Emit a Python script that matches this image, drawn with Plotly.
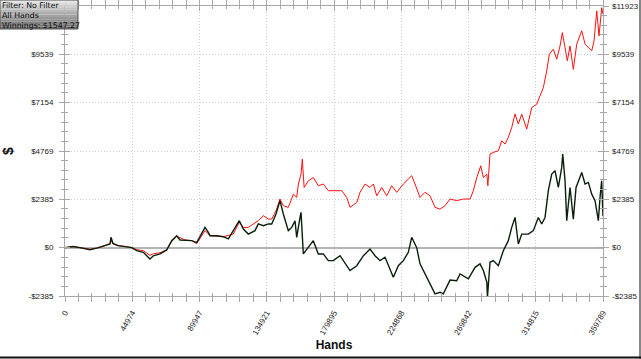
import plotly.graph_objects as go

# ---------------- data ----------------
hands_black = [0, 5350, 10030, 16720, 21200, 25410, 30100, 30760, 32100, 35450, 41260, 44610,
               47950, 52370, 56850, 59050, 63540, 68020, 71360, 74700, 76910, 80260, 84740,
               88080, 90290, 93630, 95840, 96980, 101460, 105870, 109220, 112560, 116570,
               119250, 122590, 127070, 129280, 132630, 135970, 138240, 141120, 143790, 146000,
               149340, 151620, 153820, 154960, 157170, 157840, 159380, 161650, 166060, 169410,
               172750, 176100, 179440, 183920, 190610, 195090, 199570, 203980, 207330, 210670,
               214020, 219570, 222910, 226260, 229600, 231870, 235210, 237420, 241910, 244110,
               247460, 250800, 253010, 257490, 261970, 264180, 266430, 269780, 274210, 277560,
               279770, 282110, 282510, 284230, 286440, 289790, 293130, 296480, 298750, 300960,
               303170, 305440, 309850, 313200, 316540, 318810, 321020, 323230, 325500, 327710,
               329920, 332190, 332860, 334400, 335530, 337740, 339950, 341760, 345570, 347780,
               349990, 352260, 354460, 356680, 357800, 358900, 359789]
winnings_black = [0, 60, 0, -100, -20, 80, 180, 510, 210, 100, 50, 0,
                  -150, -230, -560, -400, -310, -110, 340, 590, 380, 380, 345,
                  250, 520, 1000, 750, 590, 590, 540, 430, 840, 1330,
                  920, 670, 840, 1170, 1085, 1170, 1170, 1660, 2320, 1660,
                  840, 1000, 1330, 510, 1490, 1740, -310, -65, 345, -310,
                  -310, -640, -640, -395, -1130, -890, -395, -65, -395, -640,
                  -475, -1460, -890, -640, -230, 510, 0, -800, -1460, -1790,
                  -2280, -2200, -2280, -1600, -1630, -1300, -1380, -1540, -970, -800,
                  -1130, -1710, -2450, -720, -640, -890, -150, 345, 1000, 1490,
                  180, 670, 670, 840, 1490, 1170, 1490, 2810, 3630, 3795,
                  2970, 3960, 4620, 3300, 1330, 2970, 1410, 2970, 3710, 3140,
                  3220, 2640, 2320, 1330, 2480, 3300, 1547.27]

hands_red = [0, 5350, 10030, 16720, 21200, 25410, 30100, 30760, 32100, 35450, 41260, 44610,
             47950, 52370, 56850, 59050, 63540, 68020, 71360, 74700, 80260, 84740,
             88080, 90290, 93630, 96980, 105870, 112560, 116570, 119250, 122590,
             129280, 132630, 135970, 138240, 141120, 143790, 146000, 149340, 152740,
             154960, 156080, 157840, 158710, 159920, 162780, 166060, 169410, 172750,
             176100, 178330, 185030, 188370, 190610, 195090, 197300, 200650, 203980,
             206200, 208470, 211810, 215150, 218500, 221840, 226260, 229600, 231870,
             234080, 237420, 240770, 244110, 247460, 250800, 254150, 257490, 261970,
             266430, 270900, 273100, 275380, 278050, 279770, 282110, 282780, 284230,
             286440, 289790, 292060, 294270, 296480, 298750, 300960, 303170, 305440,
             308780, 312130, 315470, 317680, 319890, 322160, 323900, 326570, 328850,
             331060, 332590, 334400, 335930, 337740, 339950, 342220, 345570, 347780,
             349990, 352260, 353800, 355590, 357130, 358940, 359789]
winnings_red = [0, 60, 0, -80, -20, 60, 200, 360, 180, 100, 50, 0,
                -100, -150, -380, -300, -250, -110, 300, 560, 380, 345,
                200, 450, 840, 590, 540, 670, 1250, 1000, 1000,
                1330, 1580, 1410, 1410, 1820, 2400, 2070, 1990, 2640,
                2480, 3140, 3630, 4370, 2970, 3300, 3460, 3055, 3140,
                2810, 2810, 2810, 2480, 1990, 2230, 2730, 3140, 2970,
                3140, 2560, 2970, 2560, 3055, 2730, 3140, 3385, 3550,
                3140, 2480, 2730, 2560, 1990, 1900, 2070, 2400, 2320,
                2400, 2400, 2810, 3460, 4040, 3460, 3630, 3055, 4620,
                4700, 4780, 5270, 5110, 5440, 5930, 6590, 6100, 6590,
                5850, 6910, 7080, 7490, 7900, 8720, 9545, 9790, 9300,
                9950, 10610, 9870, 9220, 9950, 8800, 10040, 10700, 10040,
                9870, 9710, 10200, 11680, 10450, 11840, 11520]

x_ticks = [0, 44974, 89947, 134921, 179895, 224868, 269842, 314815, 359789]
y_ticks = [-2385, 0, 2385, 4769, 7154, 9539, 11923]
y_labels = ["-$2385", "$0", "$2385", "$4769", "$7154", "$9539", "$11923"]
legend_lines = ["Filter: No Filter", "All Hands", "Winnings: $1547.27"]

# ---------------- figure ----------------
W, H = 641, 359
ML, MR, MT, MB = 65, 38, 6, 63
PW, PH = W - ML - MR, H - MT - MB

x_minor = [x_ticks[i] + (x_ticks[i + 1] - x_ticks[i]) * k / 5
           for i in range(len(x_ticks) - 1) for k in range(1, 5)]
y_minor = [y_ticks[i] + (y_ticks[i + 1] - y_ticks[i]) * k / 5
           for i in range(len(y_ticks) - 1) for k in range(1, 5)]

xr = [x_ticks[0], x_ticks[-1]]
yr = [y_ticks[0], y_ticks[-1]]

# left top label is hidden under the info box in the reference
left_labels = y_labels[:-1] + [""]

fig = go.Figure()
fig.add_trace(go.Scatter(x=hands_red, y=winnings_red, mode="lines",
                         line=dict(color="#ff1010", width=1), hoverinfo="skip"))
fig.add_trace(go.Scatter(x=hands_black, y=winnings_black, mode="lines",
                         line=dict(color="#0a1f0a", width=1.4), hoverinfo="skip"))
# empty traces registering the overlay axes
fig.add_trace(go.Scatter(x=[], y=[], yaxis="y2", hoverinfo="skip"))
fig.add_trace(go.Scatter(x=[], y=[], xaxis="x2", yaxis="y3", hoverinfo="skip"))

axis_col = "#a8a8a8"
grid_col = "#cfcfcf"
tick_font = dict(family="Liberation Sans, Arial, sans-serif", size=8, color="#222")

fig.update_layout(
    width=W, height=H,
    margin=dict(l=ML, r=MR, t=MT, b=MB, pad=0, autoexpand=False),
    paper_bgcolor="white", plot_bgcolor="white",
    showlegend=False,
    xaxis=dict(range=xr, tickmode="array", tickvals=x_ticks, automargin=False,
               ticktext=[str(v) for v in x_ticks], tickangle=-60,
               tickfont=tick_font, ticks="outside", ticklen=5, tickcolor=axis_col,
               showline=True, linecolor=axis_col, linewidth=1, mirror="allticks",
               showgrid=True, gridcolor=grid_col, griddash="1px,2px", gridwidth=1,
               zeroline=False, ticklabelstandoff=3,
               minor=dict(tickvals=x_minor, ticks="outside", ticklen=3,
                          tickcolor=axis_col, showgrid=False),
               title=dict(text="<b>Hands</b>", standoff=4,
                          font=dict(family="Liberation Sans, Arial, sans-serif",
                                    size=12, color="#111"))),
    yaxis=dict(range=yr, tickmode="array", tickvals=y_ticks, ticktext=left_labels,
               automargin=False,
               tickfont=tick_font, ticks="outside", ticklen=5, tickcolor=axis_col,
               showline=True, linecolor=axis_col, linewidth=1, mirror="allticks",
               showgrid=True, gridcolor=grid_col, griddash="1px,2px", gridwidth=1,
               zeroline=True, zerolinecolor="#b4b4b4", zerolinewidth=2,
               ticklabelstandoff=4,
               minor=dict(tickvals=y_minor, ticks="outside", ticklen=3,
                          tickcolor=axis_col, showgrid=False),
               title=dict(text="<b>$</b>", standoff=12,
                          font=dict(family="Liberation Sans, Arial, sans-serif",
                                    size=14, color="#111"))),
    yaxis2=dict(overlaying="y", side="right", range=yr, tickmode="array",
                automargin=False,
                tickvals=y_ticks, ticktext=y_labels, tickfont=tick_font,
                ticks="", showline=False, showgrid=False, zeroline=False,
                ticklabelstandoff=8),
    xaxis2=dict(overlaying="x", range=xr, tickmode="array", tickvals=x_ticks,
                automargin=False,
                showticklabels=False, ticks="inside", ticklen=5, tickcolor=axis_col,
                showline=False, mirror="allticks", showgrid=False, zeroline=False,
                minor=dict(tickvals=x_minor, ticks="inside", ticklen=3,
                           tickcolor=axis_col)),
    yaxis3=dict(overlaying="y", anchor="x2", range=yr, tickmode="array", tickvals=y_ticks,
                automargin=False,
                showticklabels=False, ticks="inside", ticklen=5, tickcolor=axis_col,
                showline=False, mirror="allticks", showgrid=False, zeroline=False,
                minor=dict(tickvals=y_minor, ticks="inside", ticklen=3,
                           tickcolor=axis_col)),
)

# info box with a vertical grey gradient (top-left, outside plot area)
def px_x(p):
    return (p - ML) / PW

def px_y(p):
    return (H - MB - p) / PH

box_l, box_r, box_t, box_b = 0, 78, 0, 29
n = 12
for i in range(n):
    g = int(228 - (228 - 110) * i / (n - 1))
    col = f"rgb({g},{g},{g})"
    t0 = box_t + (box_b - box_t) * i / n
    t1 = box_t + (box_b - box_t) * (i + 1) / n
    fig.add_shape(type="rect", xref="paper", yref="paper",
                  x0=px_x(box_l), x1=px_x(box_r), y0=px_y(t1), y1=px_y(t0),
                  fillcolor=col, line=dict(width=0), layer="above")
fig.add_shape(type="rect", xref="paper", yref="paper",
              x0=px_x(box_l), x1=px_x(box_r), y0=px_y(box_b), y1=px_y(box_t),
              fillcolor="rgba(0,0,0,0)", line=dict(color="#555", width=1), layer="above")
fig.add_annotation(xref="paper", yref="paper", x=px_x(1), y=px_y(0),
                   text="<br>".join(legend_lines), showarrow=False,
                   xanchor="left", yanchor="top", align="left", borderpad=0,
                   font=dict(family="DejaVu Sans, sans-serif", size=7.8, color="#111"))

# dark frame on bottom and right edge
fig.add_shape(type="line", xref="paper", yref="paper",
              x0=px_x(0), x1=px_x(W), y0=px_y(357.5), y1=px_y(357.5),
              line=dict(color="#111", width=2), layer="above")
fig.add_shape(type="line", xref="paper", yref="paper",
              x0=px_x(640), x1=px_x(640), y0=px_y(0), y1=px_y(H),
              line=dict(color="#111", width=1), layer="above")

fig.write_html(
    "out.html",
    config={"displayModeBar": False, "staticPlot": True},
    post_script="document.body.style.margin='0';document.body.style.overflow='hidden';",
)
